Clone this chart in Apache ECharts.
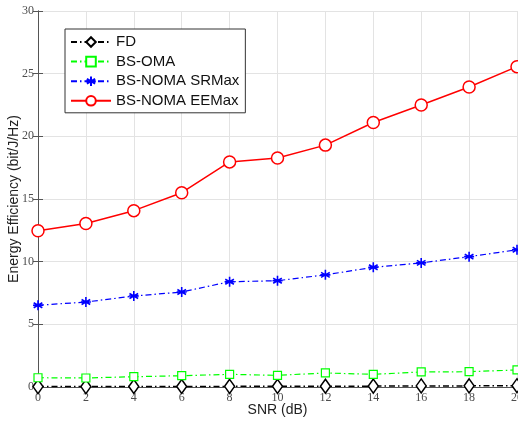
<!DOCTYPE html>
<html>
<head>
<meta charset="utf-8">
<script src="https://cdn.jsdelivr.net/npm/echarts@6/dist/echarts.min.js"></script>
<style>
  html, body { margin: 0; padding: 0; background: #fff; }
  #chart { width: 518px; height: 422px; }
</style>
</head>
<body>
<div id="chart"></div>
<script>
// SNR sweep (dB) and energy efficiency of each scheme (bit/J/Hz)
const snr = [0, 2, 4, 6, 8, 10, 12, 14, 16, 18, 20];
const fd = [0.03, 0.03, 0.04, 0.04, 0.05, 0.05, 0.06, 0.07, 0.08, 0.09, 0.1];
const bsOma = [0.74, 0.72, 0.82, 0.9, 1.01, 0.93, 1.12, 1.01, 1.2, 1.22, 1.36];
const bsNomaSrMax = [6.52, 6.78, 7.26, 7.58, 8.4, 8.48, 8.95, 9.55, 9.9, 10.4, 10.95];
const bsNomaEeMax = [12.47, 13.05, 14.07, 15.5, 17.96, 18.27, 19.3, 21.1, 22.5, 23.94, 25.56];
const yTicks = { min: 0, max: 30, step: 5 };
const xTicks = { min: 0, max: 20, step: 2 };

const pairs = (ys) => snr.map((x, i) => [x, ys[i]]);
const dashDot = [6, 3, 1.5, 3];
const asterisk = 'path://M5,0 L5,10 M0.67,2.5 L9.33,7.5 M0.67,7.5 L9.33,2.5 M0,5 L10,5';

const tickFont = { fontFamily: '"Liberation Serif", "Times New Roman", serif', fontSize: 12, color: '#4d4d4d' };
const gridLine = { show: true, lineStyle: { color: '#e3e3e3', width: 1 } };
const axisLine = { show: true, lineStyle: { color: '#555', width: 1 } };
const innerTick = { show: true, inside: true, length: 5, lineStyle: { color: '#555' } };

const chart = echarts.init(document.getElementById('chart'), null, { renderer: 'canvas' });
chart.setOption({
  animation: false,
  backgroundColor: '#fff',
  grid: { left: 38, right: 1, top: 11, bottom: 35, containLabel: false, outerBoundsMode: 'none' },
  legend: {
    left: 65, top: 29,
    orient: 'vertical',
    itemWidth: 40, itemHeight: 12, itemGap: 3.6,
    padding: [5, 6, 4, 5],
    backgroundColor: '#fff',
    borderColor: '#333', borderWidth: 1, borderRadius: 0,
    textStyle: { fontFamily: '"Liberation Sans", Arial, sans-serif', fontSize: 15, lineHeight: 16, color: '#111' },
    data: ['FD', 'BS-OMA', 'BS-NOMA SRMax', 'BS-NOMA EEMax']
  },
  xAxis: [{
    type: 'value', min: xTicks.min, max: xTicks.max, interval: xTicks.step,
    name: 'SNR (dB)', nameLocation: 'middle', nameGap: 16, nameMoveOverlap: false,
    nameTextStyle: { fontFamily: '"Liberation Sans", Arial, sans-serif', fontSize: 14, color: '#222' },
    axisLine: axisLine, axisTick: innerTick, splitLine: gridLine,
    axisLabel: Object.assign({ margin: 5 }, tickFont)
  }, {
    type: 'value', position: 'top', min: xTicks.min, max: xTicks.max, interval: xTicks.step,
    axisLine: axisLine, axisTick: innerTick, axisLabel: { show: false }, splitLine: { show: false }
  }],
  yAxis: [{
    type: 'value', min: yTicks.min, max: yTicks.max, interval: yTicks.step,
    name: 'Energy Efficiency (bit/J/Hz)', nameLocation: 'middle', nameGap: 17, nameMoveOverlap: false,
    nameTextStyle: { fontFamily: '"Liberation Sans", Arial, sans-serif', fontSize: 14, color: '#222' },
    axisLine: axisLine, axisTick: innerTick, splitLine: gridLine,
    axisLabel: Object.assign({ margin: 4 }, tickFont)
  }, {
    type: 'value', position: 'right', min: yTicks.min, max: yTicks.max, interval: yTicks.step,
    axisLine: axisLine, axisTick: innerTick, axisLabel: { show: false }, splitLine: { show: false }
  }],
  series: [{
    name: 'FD', type: 'line', data: pairs(fd),
    symbol: 'diamond', symbolSize: [10, 14], showAllSymbol: true,
    lineStyle: { color: '#000', width: 1.5, type: dashDot },
    itemStyle: { color: '#fff', borderColor: '#000', borderWidth: 1.5 },
    z: 3
  }, {
    name: 'BS-OMA', type: 'line', data: pairs(bsOma),
    symbol: 'rect', symbolSize: 8, showAllSymbol: true,
    lineStyle: { color: '#00ff00', width: 1.2, type: dashDot },
    itemStyle: { color: '#fff', borderColor: '#00ff00', borderWidth: 1.2 },
    z: 4
  }, {
    name: 'BS-NOMA SRMax', type: 'line', data: pairs(bsNomaSrMax),
    symbol: asterisk, symbolSize: 10, showAllSymbol: true,
    lineStyle: { color: '#0000ff', width: 1.2, type: dashDot },
    itemStyle: { color: 'none', borderColor: '#0000ff', borderWidth: 1.6 },
    z: 5
  }, {
    name: 'BS-NOMA EEMax', type: 'line', data: pairs(bsNomaEeMax),
    symbol: 'circle', symbolSize: 12, showAllSymbol: true,
    lineStyle: { color: '#ff0000', width: 1.5 },
    itemStyle: { color: '#fff', borderColor: '#ff0000', borderWidth: 1.5 },
    z: 6
  }]
});
</script>
</body>
</html>
